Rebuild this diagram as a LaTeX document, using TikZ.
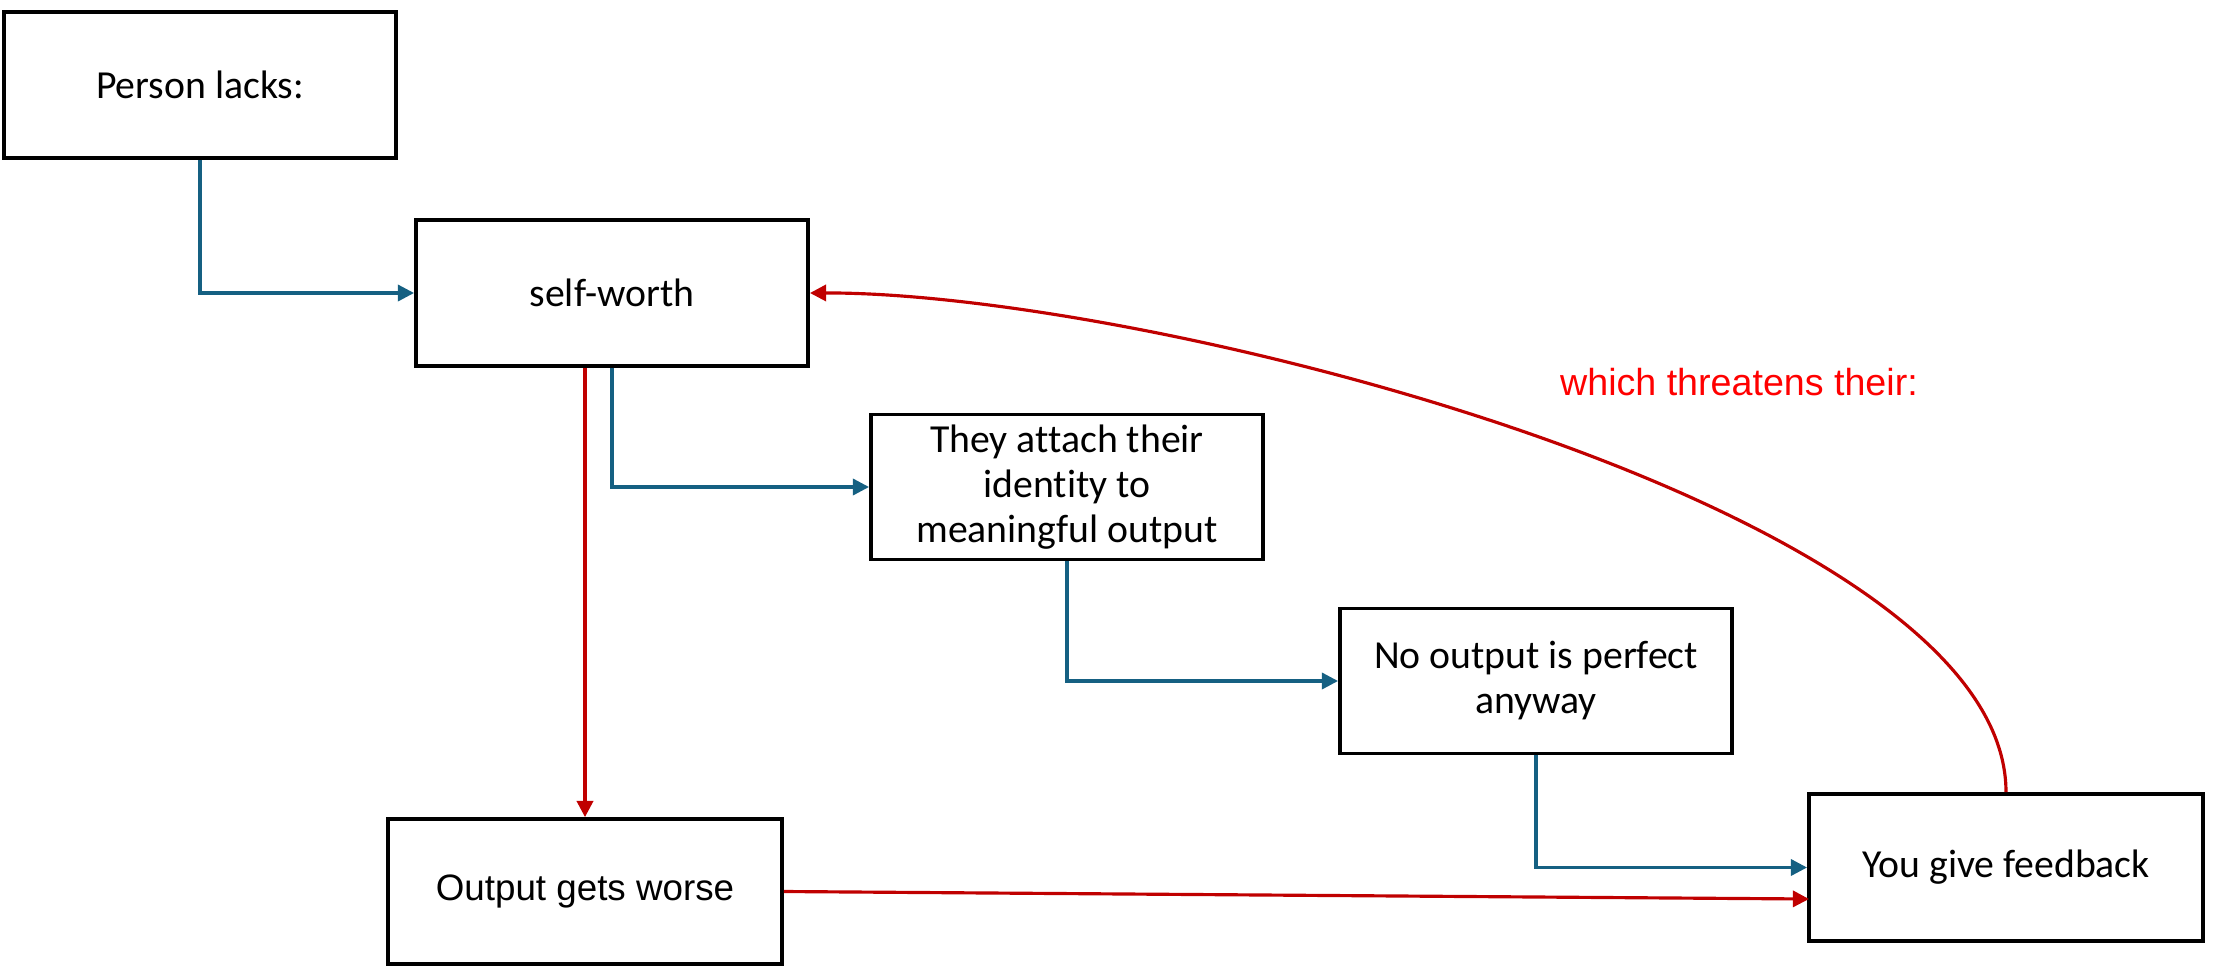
\documentclass[tikz,border=0pt]{standalone}
\usepackage{fontspec}
\setmainfont[Ligatures={NoCommon}]{Carlito}
\newfontfamily\widefont{Liberation Sans}
\usetikzlibrary{arrows.meta}
\definecolor{flowblue}{RGB}{21,96,130}
\definecolor{flowred}{RGB}{192,0,0}
\definecolor{labelred}{RGB}{255,0,0}
\tikzset{
  box/.style={draw=black, line width=1.05pt, fill=white, inner sep=0pt, align=center,
    font=\fontsize{11.3}{12.8}\selectfont},
  bluearrow/.style={draw=flowblue, line width=0.9pt, -{Triangle[length=4.6pt,width=4.6pt]}},
  redarrow/.style={draw=flowred, line width=0.9pt, -{Triangle[length=4.6pt,width=4.6pt]}},
}
\begin{document}
\begin{tikzpicture}[x=0.01cm, y=-0.01cm]
\useasboundingbox (0,0) rectangle (2226,978);
% boxes
\node[box, minimum width=3.92cm, minimum height=1.46cm] (pl) at (200,85) {Person lacks:};
\node[box, minimum width=3.92cm, minimum height=1.46cm] (sw) at (612,293) {self-worth};
\node[box, minimum width=3.92cm, minimum height=1.45cm] (ta) at (1067,487) {They attach their\\identity to\\meaningful output};
\node[box, minimum width=3.92cm, minimum height=1.45cm] (no) at (1536,681) {No output is perfect\\anyway};
\node[box, minimum width=3.94cm, minimum height=1.45cm, font=\widefont\fontsize{10.45}{12}\selectfont] (ow) at (585,891.5) {Output gets worse};
\node[box, minimum width=3.94cm, minimum height=1.47cm] (fb) at (2006,867.5) {You give feedback};
% label
\node[text=labelred, font=\widefont\fontsize{10.7}{12}\selectfont, inner sep=0pt] (lbl) at (1739,382) {which threatens their:};
% blue connectors
\draw[bluearrow] (pl.south) |- (sw.west);
\draw[bluearrow] (sw.south) |- (ta.west);
\draw[bluearrow] (ta.south) |- (no.west);
\draw[bluearrow] (no.south) |- (fb.west);
% red connectors
\draw[redarrow] (sw.south -| ow.north) -- (ow.north);
\coordinate (fbin) at (1809,899);
\draw[redarrow] (ow.east) -- (fbin);
\draw[redarrow] (fb.north) .. controls (2006,510) and (1150,292) .. (sw.east);
\end{tikzpicture}
\end{document}
